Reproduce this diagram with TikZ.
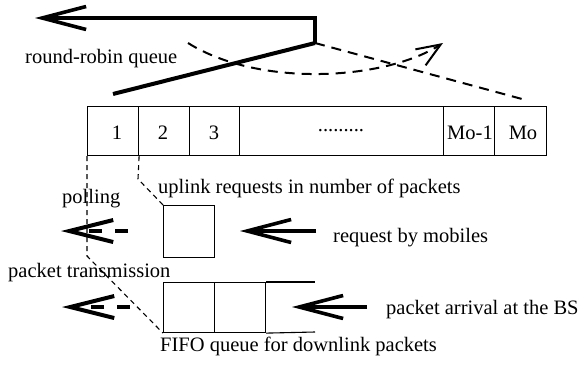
\documentclass[tikz,border=0pt]{standalone}
\usepackage{fontspec}
\setmainfont{Liberation Serif}
\usetikzlibrary{arrows.meta}
\begin{document}
\begin{tikzpicture}[x=1pt,y=-1pt,
  lbl/.style={font=\fontsize{20.5}{24}\selectfont, inner sep=0pt},
  cellbox/.style={draw, line width=1.1pt, minimum height=49pt, inner sep=0pt, anchor=north west},
  sqbox/.style={draw, line width=1.1pt, inner sep=0pt, anchor=north west},
  bigarrow/.style={line width=3.6pt, -{Straight Barb[length=44pt,width=23pt]}},
  dasharrow/.style={line width=4pt, dash pattern=on 13pt off 13pt, -{Straight Barb[length=44pt,width=22pt]}},
  thindash/.style={line width=1.1pt, dash pattern=on 5pt off 4pt},
  middash/.style={line width=2pt, dash pattern=on 10pt off 7pt},
]
\useasboundingbox (0,0) rectangle (585,367);

% main round-robin queue
\node[cellbox, minimum width=51pt] (c1) at (87,106) {};
\node[cellbox, minimum width=51pt] (c2) at (138,106) {};
\node[cellbox, minimum width=50pt] (c3) at (189,106) {};
\node[cellbox, minimum width=204pt] (cd) at (239,106) {};
\node[cellbox, minimum width=51pt] (cm1) at (443,106) {};
\node[cellbox, minimum width=52pt] (cm) at (494,106) {};
\node[lbl, anchor=base] (t1) at (117,139.5) {1};
\node[lbl, anchor=base] (t2) at (163,139.5) {2};
\node[lbl, anchor=base] (t3) at (214,139.5) {3};
\node[lbl, anchor=base] (tdots) at (341,131) {.........};
\node[lbl, anchor=base] (tm1) at (470,139.5) {Mo-1};
\node[lbl, anchor=base] (tm) at (523,139.5) {Mo};

% round-robin pointer
\coordinate (pivot) at (315,43);
\coordinate (corner) at (315,18);
\coordinate (toptip) at (35,18);
\coordinate (ptrend) at (113,94);
\coordinate (dashend) at (522,99);
\coordinate (cstart) at (188,43);
\coordinate (ctip) at (443,43);
\draw[bigarrow] (pivot) -- (corner) -- (toptip);
\draw[line width=4pt] (pivot) -- (ptrend);
\draw[middash] (pivot) -- (dashend);
\draw[middash, -{Straight Barb[length=24pt,width=19pt,line width=2pt]}] (cstart) .. controls (260,88) and (385,80) .. (ctip);
\node[lbl, anchor=base west] (rr) at (25,63) {round-robin queue};

% request box
\node[sqbox, minimum width=51pt, minimum height=52pt] (req) at (163,205) {};
% FIFO queue
\node[sqbox, minimum width=51pt, minimum height=50pt] (f1) at (163,282) {};
\node[sqbox, minimum width=51pt, minimum height=50pt] (f2) at (214,282) {};
\coordinate (fopen1) at (315,282);
\coordinate (fopen2) at (315,332);
\draw[line width=1.1pt] (f2.north east) -- (fopen1);
\draw[line width=1.1pt] (f2.south east) -- (fopen2);

% labels
\node[lbl, anchor=base west] (poll) at (62,203) {polling};
\node[lbl, anchor=base west] (upl) at (158,193) {uplink requests in number of packets};
\node[lbl, anchor=base west] (rbm) at (333,242) {request by mobiles};
\node[lbl, anchor=base west] (ptx) at (8,277) {packet transmission};
\node[lbl, anchor=base west] (pab) at (386,314) {packet arrival at the BS};
\node[lbl, anchor=base west] (fifo) at (160,351) {FIFO queue for downlink packets};

% dashed guide lines
\coordinate (bend1) at (87,256);
\coordinate (bend2) at (138,179);
\draw[thindash] (c1.south west) -- (bend1) -- (f1.south west);
\draw[thindash] (c1.south east) -- (bend2) -- (req.north west);

% arrows
\coordinate (reqtail) at (316,231);
\coordinate (reqtip) at (240,231);
\draw[bigarrow] (reqtail) -- (reqtip);
\coordinate (arrtail) at (367,307);
\coordinate (arrtip) at (292,307);
\draw[bigarrow] (arrtail) -- (arrtip);
\coordinate (polltail) at (128,231);
\coordinate (polltip) at (61,231);
\draw[dasharrow] (polltail) -- (polltip);
\coordinate (ptxtail) at (130,307);
\coordinate (ptxtip) at (62,307);
\draw[dasharrow] (ptxtail) -- (ptxtip);
\end{tikzpicture}
\end{document}
